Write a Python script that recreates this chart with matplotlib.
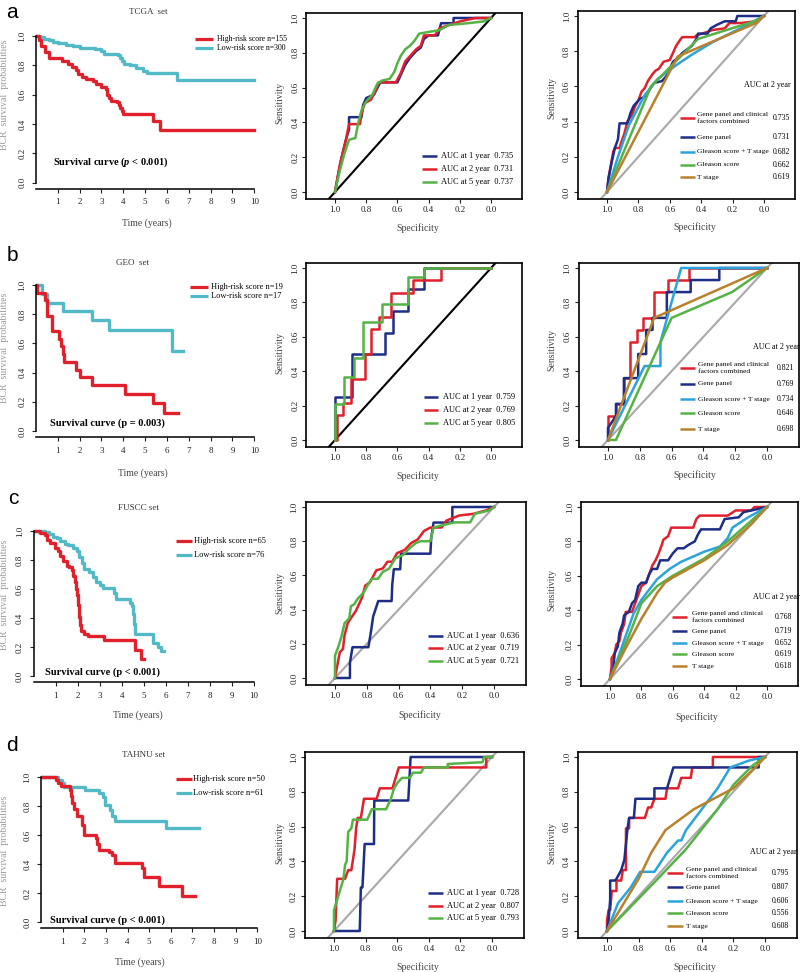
import matplotlib
matplotlib.use("Agg")
import matplotlib.pyplot as plt
from matplotlib.lines import Line2D

plt.rcParams['font.family'] = ['Liberation Serif', 'DejaVu Serif']
plt.rcParams['mathtext.fontset'] = 'custom'
plt.rcParams['mathtext.it'] = 'Liberation Serif:italic:bold'
plt.rcParams['mathtext.rm'] = 'Liberation Serif:bold'

W, H = 800, 972

RED = '#e0202b'
TEAL = '#52b9c7'
NAVY = '#1e2d86'
GREEN = '#55b245'
SKY = '#2ba4dc'
BROWN = '#b8812c'
GRAY = '#a8a8a8'

# ---- data ----
set_names = ['TCGA  set', 'GEO  set', 'FUSCC set', 'TAHNU set']
panel_letters = ['a', 'b', 'c', 'd']
n_high = [155, 19, 65, 50]
n_low = [300, 17, 76, 61]
p_texts = [r'Survival curve ($p$ < 0.001)', 'Survival curve (p = 0.003)',
           'Survival curve (p < 0.001)', 'Survival curve (p < 0.001)']

# Kaplan-Meier steps (time in years, survival)
tcga_high_t = [0, 0.15, 0.25, 0.4, 0.6, 1.2, 1.45, 1.65, 1.85, 1.95, 2.1, 2.3, 2.6, 2.75, 3.0, 3.2, 3.25,
               3.35, 3.45, 3.7, 3.8, 3.87, 3.93, 4.0, 5.38, 5.7, 10]
tcga_high_s = [1.0, 0.97, 0.93, 0.89, 0.85, 0.83, 0.81, 0.79, 0.77, 0.74, 0.72, 0.71, 0.69, 0.67, 0.65, 0.64,
               0.60, 0.58, 0.56, 0.55, 0.53, 0.51, 0.49, 0.47, 0.42, 0.36, 0.36]
tcga_low_t = [0, 0.2, 0.35, 0.6, 0.8, 1.0, 1.4, 1.7, 2.0, 2.7, 3.0, 3.1, 3.75, 3.85, 3.95, 4.05, 4.3, 4.6,
              4.9, 5.1, 6.45, 10]
tcga_low_s = [1.0, 0.99, 0.98, 0.97, 0.96, 0.95, 0.94, 0.93, 0.92, 0.91, 0.90, 0.88, 0.87, 0.85, 0.83, 0.81,
              0.80, 0.78, 0.76, 0.75, 0.70, 0.70]
geo_high_t = [0, 0.05, 0.42, 0.5, 0.75, 1.07, 1.15, 1.22, 1.3, 1.83, 2.03, 2.56, 4.09, 5.34, 5.85, 6.5]
geo_high_s = [1.0, 0.947, 0.895, 0.789, 0.684, 0.632, 0.579, 0.526, 0.474, 0.421, 0.368, 0.316, 0.253,
              0.19, 0.126, 0.126]
geo_low_t = [0, 0.27, 0.5, 1.23, 2.56, 3.33, 6.23, 6.75]
geo_low_s = [1.0, 0.94, 0.88, 0.82, 0.76, 0.69, 0.55, 0.55]
fuscc_high_t = [0, 0.3, 0.5, 0.6, 0.75, 0.95, 1.1, 1.2, 1.35, 1.5, 1.6, 1.72, 1.8, 1.86, 1.92, 1.97, 2.02,
                2.05, 2.1, 2.15, 2.3, 2.45, 3.17, 4.6, 4.85, 5.0]
fuscc_high_s = [1.0, 0.985, 0.97, 0.94, 0.915, 0.88, 0.86, 0.83, 0.79, 0.76, 0.75, 0.73, 0.69, 0.65, 0.60,
                0.56, 0.49, 0.41, 0.35, 0.31, 0.29, 0.276, 0.248, 0.18, 0.117, 0.117]
fuscc_low_t = [0, 0.5, 0.7, 0.9, 1.05, 1.2, 1.4, 1.55, 1.8, 1.95, 2.05, 2.2, 2.3, 2.5, 2.7, 2.85, 3.0,
               3.15, 3.65, 3.75, 4.35, 4.45, 4.52, 4.57, 4.62, 5.4, 5.65, 5.8, 5.92]
fuscc_low_s = [1.0, 0.99, 0.98, 0.96, 0.95, 0.93, 0.91, 0.90, 0.88, 0.86, 0.82, 0.78, 0.74, 0.72, 0.68,
               0.65, 0.63, 0.61, 0.57, 0.53, 0.50, 0.48, 0.43, 0.36, 0.29, 0.23, 0.20, 0.17, 0.17]
tahnu_high_t = [0, 0.7, 0.8, 0.9, 1.32, 1.38, 1.45, 1.5, 1.65, 1.9, 2.0, 2.52, 2.6, 2.67, 3.13, 3.28, 3.44,
                4.68, 4.74, 5.45, 6.5, 7.1]
tahnu_high_s = [1.0, 0.98, 0.96, 0.94, 0.91, 0.87, 0.82, 0.78, 0.73, 0.67, 0.60, 0.58, 0.54, 0.50, 0.48,
                0.46, 0.41, 0.37, 0.31, 0.25, 0.18, 0.18]
tahnu_low_t = [0, 0.8, 0.95, 1.05, 2.03, 2.68, 2.85, 2.95, 3.18, 3.3, 3.4, 5.78, 7.3]
tahnu_low_s = [1.0, 0.98, 0.96, 0.93, 0.91, 0.89, 0.86, 0.81, 0.77, 0.73, 0.70, 0.65, 0.65]

# time-dependent ROC (specificity, sensitivity)
tcga_y1_spec = [1.0, 0.98, 0.96, 0.93, 0.91, 0.91, 0.83, 0.82, 0.80, 0.75, 0.71, 0.60, 0.59, 0.57, 0.55,
                0.52, 0.48, 0.45, 0.43, 0.40, 0.34, 0.32, 0.24, 0.24, 0.0]
tcga_y1_sens = [0.0, 0.10, 0.19, 0.30, 0.36, 0.43, 0.43, 0.50, 0.54, 0.56, 0.63, 0.63, 0.65, 0.69, 0.73,
                0.77, 0.81, 0.83, 0.88, 0.90, 0.90, 0.97, 0.97, 1.0, 1.0]
tcga_y2_spec = [1.0, 0.97, 0.93, 0.91, 0.84, 0.83, 0.81, 0.77, 0.74, 0.72, 0.61, 0.58, 0.55, 0.52, 0.48,
                0.45, 0.43, 0.36, 0.33, 0.30, 0.20, 0.10, 0.0]
tcga_y2_sens = [0.0, 0.15, 0.30, 0.39, 0.39, 0.45, 0.51, 0.53, 0.58, 0.63, 0.63, 0.68, 0.75, 0.78, 0.82,
                0.84, 0.90, 0.90, 0.94, 0.95, 0.98, 1.0, 1.0]
tcga_y5_spec = [1.0, 0.97, 0.94, 0.91, 0.87, 0.85, 0.83, 0.80, 0.76, 0.73, 0.70, 0.65, 0.62, 0.60, 0.58,
                0.55, 0.52, 0.49, 0.46, 0.40, 0.33, 0.27, 0.15, 0.05, 0.0]
tcga_y5_sens = [0.0, 0.12, 0.22, 0.30, 0.31, 0.40, 0.47, 0.52, 0.56, 0.62, 0.64, 0.65, 0.69, 0.74, 0.78,
                0.82, 0.84, 0.87, 0.91, 0.92, 0.93, 0.96, 0.97, 0.98, 1.0]
geo_y1_spec = [1.0, 1.0, 0.89, 0.89, 0.68, 0.68, 0.63, 0.63, 0.53, 0.53, 0.43, 0.43, 0.0]
geo_y1_sens = [0.0, 0.25, 0.25, 0.5, 0.5, 0.625, 0.625, 0.75, 0.75, 0.875, 0.875, 1.0, 1.0]
geo_y2_spec = [1.0, 0.99, 0.99, 0.95, 0.95, 0.90, 0.90, 0.81, 0.81, 0.77, 0.77, 0.72, 0.72, 0.64, 0.64,
               0.50, 0.50, 0.32, 0.32, 0.0]
geo_y2_sens = [0.0, 0.0, 0.143, 0.143, 0.214, 0.214, 0.357, 0.357, 0.5, 0.5, 0.643, 0.643, 0.714, 0.714,
               0.857, 0.857, 0.929, 0.929, 1.0, 1.0]
geo_y5_spec = [1.0, 1.0, 0.94, 0.94, 0.88, 0.88, 0.82, 0.82, 0.70, 0.70, 0.53, 0.53, 0.43, 0.43, 0.0]
geo_y5_sens = [0.0, 0.21, 0.21, 0.368, 0.368, 0.474, 0.474, 0.684, 0.684, 0.789, 0.789, 0.947, 0.947,
               1.0, 1.0]
fuscc_y1_spec = [1.0, 0.906, 0.906, 0.89, 0.79, 0.774, 0.76, 0.728, 0.644, 0.64, 0.63, 0.59, 0.585, 0.40,
                 0.395, 0.38, 0.262, 0.262, 0.0]
fuscc_y1_sens = [0.0, 0.0, 0.09, 0.18, 0.18, 0.27, 0.36, 0.45, 0.45, 0.545, 0.636, 0.636, 0.727, 0.727,
                 0.818, 0.909, 0.909, 1.0, 1.0]
fuscc_y2_spec = [1.0, 0.99, 0.97, 0.95, 0.94, 0.92, 0.90, 0.87, 0.85, 0.83, 0.81, 0.78, 0.74, 0.70, 0.67,
                 0.64, 0.61, 0.56, 0.52, 0.48, 0.44, 0.40, 0.33, 0.30, 0.22, 0.13, 0.05, 0.0]
fuscc_y2_sens = [0.0, 0.05, 0.15, 0.17, 0.25, 0.32, 0.35, 0.39, 0.43, 0.47, 0.54, 0.56, 0.63, 0.64, 0.68,
                 0.68, 0.73, 0.75, 0.79, 0.81, 0.86, 0.88, 0.88, 0.92, 0.95, 0.96, 0.98, 1.0]
fuscc_y5_spec = [1.0, 1.0, 0.98, 0.96, 0.94, 0.91, 0.90, 0.88, 0.86, 0.82, 0.79, 0.77, 0.73, 0.70, 0.66,
                 0.62, 0.57, 0.53, 0.49, 0.46, 0.40, 0.38, 0.34, 0.25, 0.15, 0.12, 0.03, 0.0]
fuscc_y5_sens = [0.0, 0.13, 0.18, 0.24, 0.32, 0.35, 0.42, 0.43, 0.46, 0.50, 0.55, 0.58, 0.58, 0.62, 0.64,
                 0.70, 0.72, 0.76, 0.79, 0.80, 0.80, 0.88, 0.89, 0.91, 0.91, 0.96, 0.98, 1.0]
tahnu_y1_spec = [1.0, 0.837, 0.83, 0.82, 0.806, 0.747, 0.745, 0.53, 0.515, 0.057, 0.0]
tahnu_y1_sens = [0.0, 0.0, 0.25, 0.25, 0.5, 0.5, 0.75, 0.75, 1.0, 1.0, 1.0]
tahnu_y2_spec = [1.0, 0.99, 0.98, 0.93, 0.91, 0.89, 0.88, 0.87, 0.86, 0.85, 0.83, 0.81, 0.73, 0.71, 0.63,
                 0.61, 0.59, 0.036, 0.036, 0.0]
tahnu_y2_sens = [0.0, 0.06, 0.30, 0.30, 0.35, 0.35, 0.41, 0.47, 0.59, 0.65, 0.65, 0.76, 0.76, 0.82, 0.82,
                 0.88, 0.94, 0.94, 1.0, 1.0]
tahnu_y5_spec = [1.0, 1.0, 0.98, 0.96, 0.94, 0.93, 0.92, 0.91, 0.89, 0.88, 0.85, 0.79, 0.76, 0.67, 0.64,
                 0.62, 0.60, 0.57, 0.52, 0.50, 0.45, 0.43, 0.28, 0.28, 0.06, 0.05, 0.0]
tahnu_y5_sens = [0.0, 0.12, 0.18, 0.24, 0.30, 0.38, 0.40, 0.57, 0.59, 0.64, 0.64, 0.64, 0.70, 0.70, 0.76,
                 0.82, 0.85, 0.88, 0.88, 0.91, 0.91, 0.94, 0.94, 0.96, 0.97, 1.0, 1.0]

# ROC at 2 years: model comparison
tcga_comb_spec = [1.0, 0.99, 0.97, 0.96, 0.95, 0.92, 0.91, 0.89, 0.87, 0.84, 0.82, 0.80, 0.78, 0.76, 0.74,
                  0.71, 0.69, 0.67, 0.64, 0.60, 0.58, 0.56, 0.53, 0.52, 0.44, 0.43, 0.36, 0.33, 0.25, 0.22,
                  0.15, 0.05, 0.0]
tcga_comb_sens = [0.0, 0.08, 0.18, 0.23, 0.25, 0.25, 0.28, 0.33, 0.40, 0.44, 0.49, 0.52, 0.57, 0.59, 0.63,
                  0.67, 0.69, 0.70, 0.74, 0.75, 0.79, 0.83, 0.87, 0.88, 0.88, 0.89, 0.91, 0.92, 0.93, 0.96,
                  0.96, 0.97, 1.0]
tcga_gene_spec = [1.0, 0.99, 0.97, 0.95, 0.93, 0.92, 0.87, 0.85, 0.83, 0.81, 0.79, 0.76, 0.73, 0.70, 0.65,
                  0.62, 0.60, 0.58, 0.55, 0.52, 0.49, 0.46, 0.43, 0.42, 0.36, 0.34, 0.30, 0.25, 0.18, 0.17,
                  0.0]
tcga_gene_sens = [0.0, 0.08, 0.17, 0.25, 0.30, 0.39, 0.39, 0.45, 0.49, 0.51, 0.53, 0.54, 0.58, 0.62, 0.63,
                  0.66, 0.70, 0.74, 0.76, 0.79, 0.81, 0.83, 0.87, 0.90, 0.90, 0.93, 0.95, 0.97, 0.97, 1.0,
                  1.0]
tcga_glt_spec = [1.0, 0.93, 0.86, 0.76, 0.68, 0.56, 0.46, 0.33, 0.15, 0.0]
tcga_glt_sens = [0.0, 0.20, 0.38, 0.55, 0.64, 0.72, 0.78, 0.85, 0.93, 1.0]
tcga_gl_spec = [1.0, 0.72, 0.42, 0.06, 0.0]
tcga_gl_sens = [0.0, 0.60, 0.87, 0.97, 1.0]
tcga_t_spec = [1.0, 0.55, 0.05, 0.0]
tcga_t_sens = [0.0, 0.77, 0.96, 1.0]

geo_comb_spec = [1.0, 1.0, 0.95, 0.95, 0.90, 0.90, 0.86, 0.86, 0.82, 0.82, 0.78, 0.78, 0.71, 0.71, 0.62,
                 0.62, 0.49, 0.49, 0.0]
geo_comb_sens = [0.0, 0.14, 0.14, 0.21, 0.21, 0.36, 0.36, 0.57, 0.57, 0.64, 0.64, 0.71, 0.71, 0.86, 0.86,
                 0.93, 0.93, 1.0, 1.0]
geo_gene_spec = [1.0, 1.0, 0.95, 0.95, 0.90, 0.90, 0.81, 0.81, 0.76, 0.76, 0.72, 0.72, 0.63, 0.63, 0.48,
                 0.48, 0.30, 0.30, 0.0]
geo_gene_sens = [0.0, 0.07, 0.14, 0.21, 0.21, 0.36, 0.36, 0.50, 0.50, 0.64, 0.64, 0.71, 0.71, 0.86, 0.86,
                 0.93, 0.93, 1.0, 1.0]
geo_glt_spec = [1.0, 0.77, 0.67, 0.67, 0.54, 0.0]
geo_glt_sens = [0.0, 0.43, 0.43, 0.57, 1.0, 1.0]
geo_gl_spec = [1.0, 0.95, 0.60, 0.22, 0.0]
geo_gl_sens = [0.0, 0.0, 0.71, 0.86, 1.0]
geo_t_spec = [1.0, 0.71, 0.0]
geo_t_sens = [0.0, 0.71, 1.0]

fuscc_comb_spec = [1.0, 0.99, 0.99, 0.97, 0.96, 0.94, 0.93, 0.91, 0.90, 0.86, 0.84, 0.82, 0.80, 0.77, 0.75,
                   0.73, 0.71, 0.69, 0.67, 0.66, 0.63, 0.61, 0.47, 0.45, 0.43, 0.25, 0.20, 0.10, 0.08, 0.0]
fuscc_comb_sens = [0.0, 0.07, 0.12, 0.15, 0.20, 0.22, 0.27, 0.32, 0.39, 0.39, 0.44, 0.49, 0.54, 0.56, 0.61,
                   0.66, 0.69, 0.73, 0.78, 0.81, 0.83, 0.88, 0.88, 0.93, 0.95, 0.95, 0.98, 0.98, 1.0, 1.0]
fuscc_gene_spec = [1.0, 0.98, 0.97, 0.95, 0.94, 0.92, 0.91, 0.88, 0.86, 0.84, 0.82, 0.80, 0.77, 0.75, 0.73,
                   0.70, 0.68, 0.63, 0.60, 0.57, 0.53, 0.50, 0.46, 0.44, 0.42, 0.30, 0.27, 0.18, 0.15, 0.05,
                   0.0]
fuscc_gene_sens = [0.0, 0.05, 0.15, 0.19, 0.27, 0.32, 0.37, 0.39, 0.44, 0.46, 0.54, 0.56, 0.56, 0.61, 0.64,
                   0.64, 0.69, 0.69, 0.73, 0.76, 0.76, 0.78, 0.80, 0.84, 0.87, 0.87, 0.93, 0.94, 0.97, 0.99,
                   1.0]
fuscc_glt_spec = [1.0, 0.95, 0.90, 0.85, 0.80, 0.75, 0.70, 0.62, 0.55, 0.40, 0.30, 0.25, 0.22, 0.12, 0.0]
fuscc_glt_sens = [0.0, 0.12, 0.25, 0.38, 0.46, 0.52, 0.58, 0.64, 0.68, 0.74, 0.77, 0.82, 0.88, 0.94, 1.0]
fuscc_gl_spec = [1.0, 0.88, 0.80, 0.70, 0.60, 0.40, 0.25, 0.10, 0.0]
fuscc_gl_sens = [0.0, 0.25, 0.44, 0.54, 0.60, 0.70, 0.80, 0.92, 1.0]
fuscc_t_spec = [1.0, 0.90, 0.80, 0.70, 0.65, 0.60, 0.40, 0.25, 0.10, 0.0]
fuscc_t_sens = [0.0, 0.18, 0.35, 0.50, 0.56, 0.59, 0.69, 0.78, 0.90, 1.0]

tahnu_comb_spec = [1.0, 1.0, 0.99, 0.98, 0.97, 0.94, 0.94, 0.91, 0.90, 0.88, 0.88, 0.86, 0.86, 0.76, 0.74,
                   0.72, 0.70, 0.63, 0.62, 0.55, 0.53, 0.47, 0.46, 0.33, 0.33, 0.0]
tahnu_comb_sens = [0.0, 0.06, 0.12, 0.12, 0.23, 0.23, 0.29, 0.29, 0.35, 0.35, 0.59, 0.59, 0.65, 0.65, 0.71,
                   0.71, 0.76, 0.76, 0.82, 0.82, 0.88, 0.88, 0.94, 0.94, 1.0, 1.0]
tahnu_gene_spec = [1.0, 0.99, 0.98, 0.98, 0.95, 0.94, 0.91, 0.89, 0.87, 0.86, 0.83, 0.82, 0.70, 0.70, 0.62,
                   0.60, 0.58, 0.04, 0.04, 0.0]
tahnu_gene_sens = [0.0, 0.06, 0.18, 0.29, 0.29, 0.30, 0.35, 0.41, 0.59, 0.65, 0.65, 0.76, 0.76, 0.82, 0.82,
                   0.88, 0.94, 0.94, 1.0, 1.0]
tahnu_glt_spec = [1.0, 0.93, 0.85, 0.79, 0.70, 0.62, 0.55, 0.53, 0.50, 0.40, 0.30, 0.22, 0.10, 0.0]
tahnu_glt_sens = [0.0, 0.16, 0.25, 0.34, 0.34, 0.45, 0.52, 0.52, 0.58, 0.70, 0.82, 0.94, 0.98, 1.0]
tahnu_gl_spec = [1.0, 0.70, 0.50, 0.30, 0.20, 0.08, 0.0]
tahnu_gl_sens = [0.0, 0.28, 0.47, 0.70, 0.84, 0.95, 1.0]
tahnu_t_spec = [1.0, 0.80, 0.72, 0.63, 0.45, 0.20, 0.05, 0.0]
tahnu_t_sens = [0.0, 0.30, 0.45, 0.58, 0.70, 0.82, 0.95, 1.0]

year_labels = ['AUC at 1 year', 'AUC at 2 year', 'AUC at 5 year']
tcga_year_auc = [0.735, 0.731, 0.737]
geo_year_auc = [0.759, 0.769, 0.805]
fuscc_year_auc = [0.636, 0.719, 0.721]
tahnu_year_auc = [0.728, 0.807, 0.793]

model_labels = ['Gene panel and clinical\nfactors combined', 'Gene panel', 'Gleason score + T stage',
                'Gleason score', 'T stage']
tcga_model_auc = [0.735, 0.731, 0.682, 0.662, 0.619]
geo_model_auc = [0.821, 0.769, 0.734, 0.646, 0.698]
fuscc_model_auc = [0.768, 0.719, 0.652, 0.619, 0.618]
tahnu_model_auc = [0.795, 0.807, 0.606, 0.556, 0.608]

km_data = [(tcga_high_t, tcga_high_s, tcga_low_t, tcga_low_s),
           (geo_high_t, geo_high_s, geo_low_t, geo_low_s),
           (fuscc_high_t, fuscc_high_s, fuscc_low_t, fuscc_low_s),
           (tahnu_high_t, tahnu_high_s, tahnu_low_t, tahnu_low_s)]
year_data = [[(tcga_y1_spec, tcga_y1_sens), (tcga_y2_spec, tcga_y2_sens), (tcga_y5_spec, tcga_y5_sens)],
             [(geo_y1_spec, geo_y1_sens), (geo_y2_spec, geo_y2_sens), (geo_y5_spec, geo_y5_sens)],
             [(fuscc_y1_spec, fuscc_y1_sens), (fuscc_y2_spec, fuscc_y2_sens), (fuscc_y5_spec, fuscc_y5_sens)],
             [(tahnu_y1_spec, tahnu_y1_sens), (tahnu_y2_spec, tahnu_y2_sens), (tahnu_y5_spec, tahnu_y5_sens)]]
model_data = [[(tcga_comb_spec, tcga_comb_sens), (tcga_gene_spec, tcga_gene_sens), (tcga_glt_spec, tcga_glt_sens),
               (tcga_gl_spec, tcga_gl_sens), (tcga_t_spec, tcga_t_sens)],
              [(geo_comb_spec, geo_comb_sens), (geo_gene_spec, geo_gene_sens), (geo_glt_spec, geo_glt_sens),
               (geo_gl_spec, geo_gl_sens), (geo_t_spec, geo_t_sens)],
              [(fuscc_comb_spec, fuscc_comb_sens), (fuscc_gene_spec, fuscc_gene_sens),
               (fuscc_glt_spec, fuscc_glt_sens), (fuscc_gl_spec, fuscc_gl_sens), (fuscc_t_spec, fuscc_t_sens)],
              [(tahnu_comb_spec, tahnu_comb_sens), (tahnu_gene_spec, tahnu_gene_sens),
               (tahnu_glt_spec, tahnu_glt_sens), (tahnu_gl_spec, tahnu_gl_sens), (tahnu_t_spec, tahnu_t_sens)]]
year_aucs = [tcga_year_auc, geo_year_auc, fuscc_year_auc, tahnu_year_auc]
model_aucs = [tcga_model_auc, geo_model_auc, fuscc_model_auc, tahnu_model_auc]

year_colors = [NAVY, RED, GREEN]
model_colors = [RED, NAVY, SKY, GREEN, BROWN]

# ---- layout (pixel anchors of data values) ----
# KM: (px of year 1, px of year 10, px of surv 1.0, px of surv 0.0)
km_anchor = [(57.7, 254.3, 36, 182.7), (57.7, 254.3, 285, 431), (55.7, 254, 531, 676), (62.7, 257.3, 777, 922)]
# ROC: (px spec 1, px spec 0, px sens 1, px sens 0)
mid_anchor = [(335, 491, 18, 192), (335, 491, 268, 440), (335, 494, 507, 678), (334, 492, 757, 931)]
right_anchor = [(607, 764, 16, 192), (608, 767, 268, 440), (610, 767, 507, 679), (607, 765, 757, 931)]

fig = plt.figure(figsize=(W / 100, H / 100), dpi=100)


def place(xa, xb, va, vb, ya, yb, wa, wb, xlim, ylim):
    sx = (xb - xa) / (vb - va)
    sy = (yb - ya) / (wb - wa)
    left = xa + (xlim[0] - va) * sx
    right = xa + (xlim[1] - va) * sx
    top = ya + (ylim[1] - wa) * sy
    bottom = ya + (ylim[0] - wa) * sy
    return [left / W, 1 - bottom / H, (right - left) / W, (bottom - top) / H]


def ftext(x, y, s, **kw):
    kw.setdefault('va', 'center')
    fig.text(x / W, 1 - y / H, s, **kw)


def fline(x0, x1, y, color, lw):
    fig.add_artist(Line2D([x0 / W, x1 / W], [1 - y / H, 1 - y / H], color=color, lw=lw,
                          solid_capstyle='butt'))


def style_ticks(ax):
    ax.tick_params(labelsize=6.5, length=3, width=0.8, pad=2, colors='#222222')
    for lab in ax.get_yticklabels():
        lab.set_rotation(90)
        lab.set_va('center')


# KM text positions
km_legend = [(195, 213, 217, 39, 48), (190, 208, 211, 287, 296), (176, 192, 194, 541, 555),
             (176, 192, 193, 779, 793)]
km_title = [(148, 12), (133, 263), (138, 508), (143, 755)]
km_letter = [(12, 12), (12, 255), (13, 498), (12, 745)]
km_ptext = [(53, 162), (50, 423), (45, 672), (50, 920)]
km_xlab = [(147, 223), (143, 473), (138, 715), (140, 962)]
km_ylab = [(5, 95), (5, 348), (5, 595), (5, 851)]

for i in range(4):
    ht, hs, lt, ls = km_data[i]
    a = km_anchor[i]
    ax = fig.add_axes(place(a[0], a[1], 1, 10, a[2], a[3], 1.0, 0.0, (0, 10.15), (-0.04, 1.03)))
    ax.step(lt, ls, where='post', color=TEAL, lw=2.4)
    ax.step(ht, hs, where='post', color=RED, lw=2.4)
    ax.set_xlim(0, 10.15)
    ax.set_ylim(-0.04, 1.03)
    for s in ['top', 'right']:
        ax.spines[s].set_visible(False)
    ax.spines['left'].set_bounds(0, 1)
    ax.spines['bottom'].set_bounds(0, 10)
    for s in ['left', 'bottom']:
        ax.spines[s].set_linewidth(1.1)
    ax.set_xticks(range(1, 11))
    ax.set_yticks([0, 0.2, 0.4, 0.6, 0.8, 1.0])
    ax.set_yticklabels(['0.0', '0.2', '0.4', '0.6', '0.8', '1.0'])
    style_ticks(ax)
    ax.tick_params(axis='y', pad=4)
    ax.tick_params(axis='x', pad=4)

    l0, l1, tx, y1, y2 = km_legend[i]
    fs = 5.6 if i == 0 else 6
    fline(l0, l1, y1, RED, 2.3)
    fline(l0, l1, y2, TEAL, 2.3)
    ftext(tx, y1, 'High-risk score n=%d' % n_high[i], fontsize=fs, ha='left')
    ftext(tx, y2, 'Low-risk score n=%d' % n_low[i], fontsize=fs, ha='left')
    ftext(*km_title[i], set_names[i], fontsize=6.5, ha='center', color='#333333')
    ftext(*km_letter[i], panel_letters[i], fontsize=15, ha='center', family='Liberation Sans')
    ftext(*km_ptext[i], p_texts[i], fontsize=7.5, ha='left', fontweight='bold')
    ftext(*km_xlab[i], 'Time (years)', fontsize=7, ha='center', color='#444444')
    ftext(*km_ylab[i], 'BCR  survival  probabilities', fontsize=7, ha='center', rotation=90,
          color='#9a9a9a')


def roc_axes(a):
    ax = fig.add_axes(place(a[0], a[1], 1.0, 0.0, a[2], a[3], 1.0, 0.0, (1.185, -0.2), (-0.04, 1.03)))
    ax.set_xlim(1.185, -0.2)
    ax.set_ylim(-0.04, 1.03)
    ax.set_xticks([1.0, 0.8, 0.6, 0.4, 0.2, 0.0])
    ax.set_xticklabels(['1.0', '0.8', '0.6', '0.4', '0.2', '0.0'])
    ax.set_yticks([0, 0.2, 0.4, 0.6, 0.8, 1.0])
    ax.set_yticklabels(['0.0', '0.2', '0.4', '0.6', '0.8', '1.0'])
    for s in ax.spines.values():
        s.set_linewidth(1.2)
    style_ticks(ax)
    return ax


mid_diag = ['black', 'black', GRAY, GRAY]
mid_legend = [(422, 437, 441, [156, 169, 182]), (424, 438, 443, [397, 410, 423]),
              (428, 443, 447, [636, 648, 661]), (428, 443, 447, [893, 906, 918])]
mid_xlab = [(418, 228), (418, 476), (420, 715), (418, 967)]
mid_ylab = [(280, 103), (280, 353), (280, 593), (280, 843)]

right_legend = [(680, 695, 697, 773, (767, 85), [118, 137, 152, 165, 177]),
                (680, 695, 698, 777, (776, 347), [368, 384, 399, 413, 429]),
                (672, 687, 692, 775, (776, 597), [617, 631, 643, 654, 666]),
                (667, 683, 686, 772, (773, 852), [873, 887, 901, 913, 926])]
right_xlab = [(695, 227), (695, 475), (697, 717), (695, 967)]
right_ylab = [(552, 98), (552, 350), (552, 590), (552, 843)]

for i in range(4):
    ax = roc_axes(mid_anchor[i])
    ax.plot([1.3, -0.3], [-0.3, 1.3], color=mid_diag[i], lw=1.5)
    for k, (sp, se) in enumerate(year_data[i]):
        ax.plot(sp, se, color=year_colors[k], lw=1.8)
    l0, l1, tx, ys = mid_legend[i]
    for k in range(3):
        fline(l0, l1, ys[k], year_colors[k], 1.8)
        ftext(tx, ys[k], '%s  %.3f' % (year_labels[k], year_aucs[i][k]), fontsize=6, ha='left')
    ftext(*mid_xlab[i], 'Specificity', fontsize=7, ha='center', color='#444444')
    ftext(*mid_ylab[i], 'Sensitivity', fontsize=7, ha='center', rotation=90, color='#444444')

    ax = roc_axes(right_anchor[i])
    ax.plot([1.3, -0.3], [-0.3, 1.3], color=GRAY, lw=1.5)
    for k, (sp, se) in enumerate(model_data[i]):
        ax.plot(sp, se, color=model_colors[k], lw=1.8)
    l0, l1, tx, vx, head, ys = right_legend[i]
    ftext(head[0], head[1], 'AUC at 2 year', fontsize=5.8, ha='center')
    for k in range(5):
        fline(l0, l1, ys[k], model_colors[k], 1.8)
        ftext(tx, ys[k], model_labels[k], fontsize=5.4, ha='left', linespacing=1.4)
        ftext(vx, ys[k], '%.3f' % model_aucs[i][k], fontsize=5.6, ha='left')
    ftext(*right_xlab[i], 'Specificity', fontsize=7, ha='center', color='#444444')
    ftext(*right_ylab[i], 'Sensitivity', fontsize=7, ha='center', rotation=90, color='#444444')

fig.savefig('out.png', dpi=100)
